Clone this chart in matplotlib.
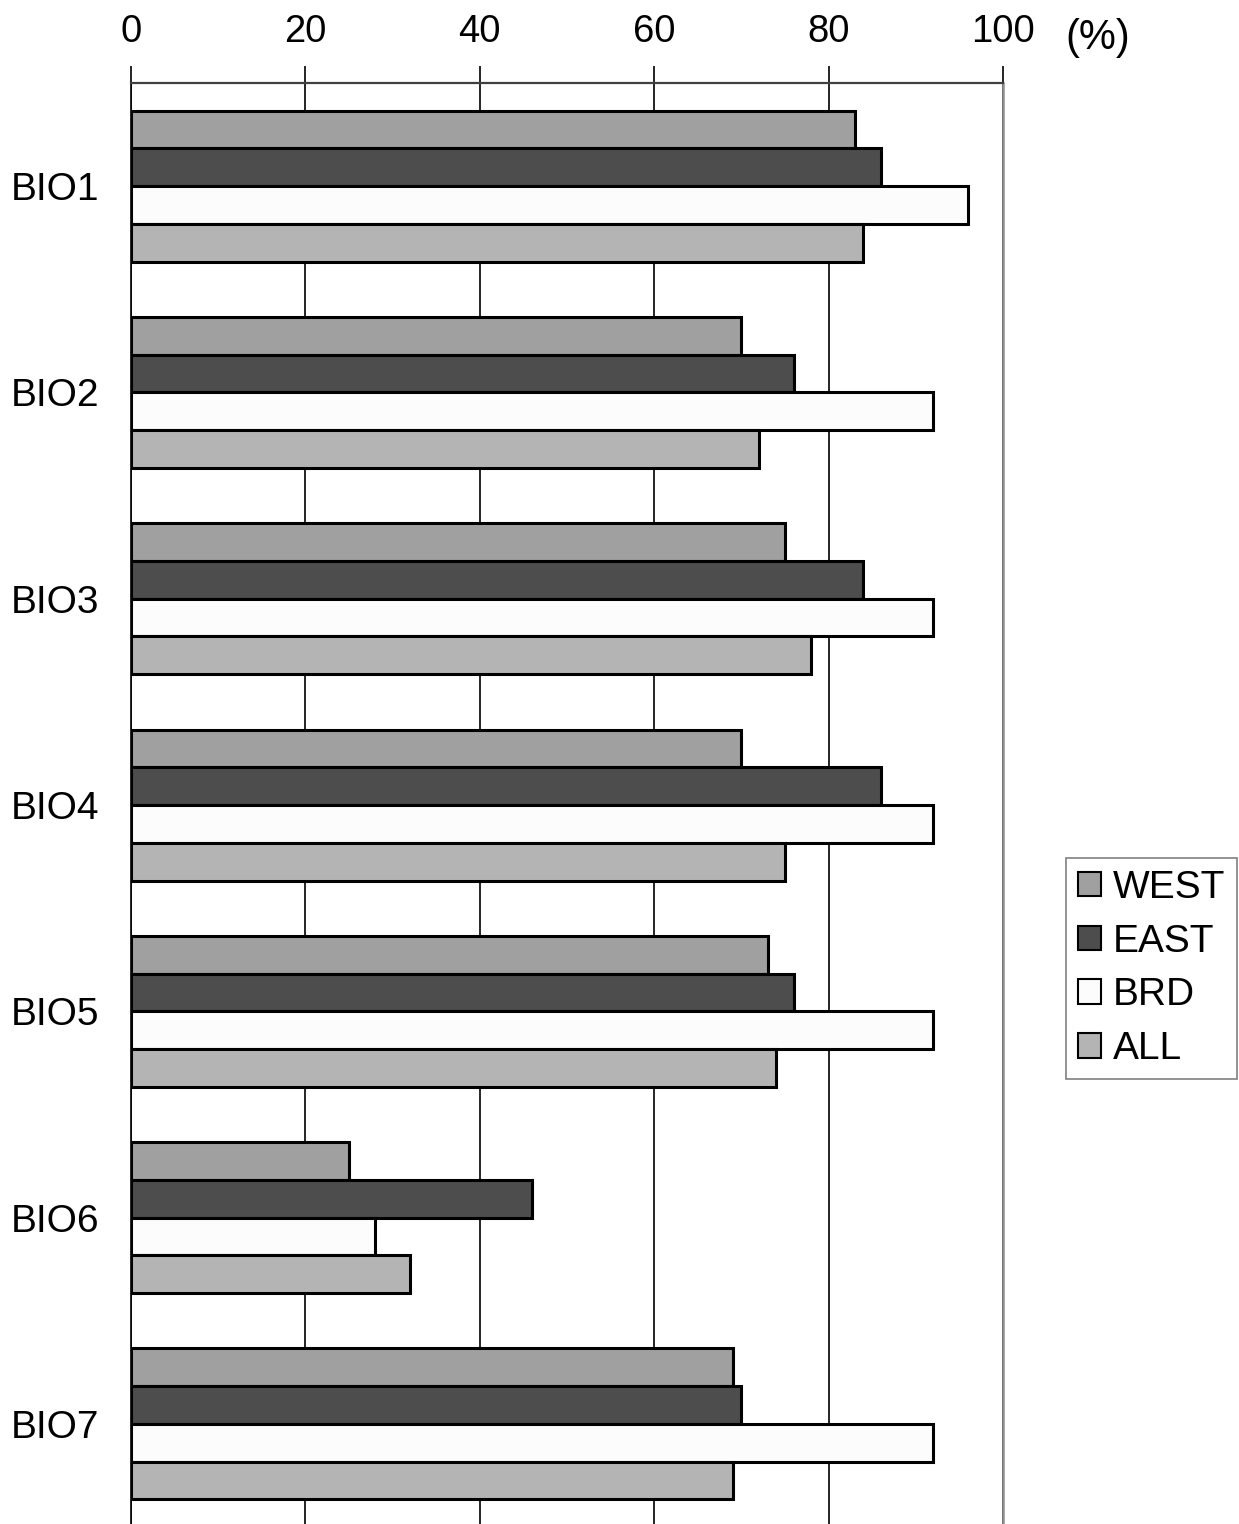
import matplotlib
matplotlib.use("Agg")
import matplotlib.pyplot as plt
import numpy as np
from matplotlib.patches import Patch

plt.rcParams["font.family"] = ["Liberation Sans", "DejaVu Sans"]

categories = ["BIO1", "BIO2", "BIO3", "BIO4", "BIO5", "BIO6", "BIO7"]
series = ["WEST", "EAST", "BRD", "ALL"]
west = [83, 70, 75, 70, 73, 25, 69]
east = [86, 76, 84, 86, 76, 46, 70]
brd = [96, 92, 92, 92, 92, 28, 92]
all_ = [84, 72, 78, 75, 74, 32, 69]
colors = ["#a0a0a0", "#4d4d4d", "#fcfcfc", "#b4b4b4"]

fig = plt.figure(figsize=(12.39, 15.24), dpi=100)
ax = fig.add_axes([131 / 1239, -0.002, (1003 - 131) / 1239, 1 - 83 / 1524 + 0.002])

y = np.arange(len(categories))
h = 0.183
for i, (vals, c, name) in enumerate(zip([west, east, brd, all_], colors, series)):
    ax.barh(y + (i - 1.5) * h, vals, h, color=c, edgecolor="black",
            linewidth=2.2, label=name, zorder=3)

ax.set_xlim(0, 100)
ax.set_ylim(len(categories) - 0.5, -0.5)
ax.set_xticks(np.arange(0, 101, 20))
ax.xaxis.tick_top()
ax.tick_params(axis="x", labelsize=27.5, length=12, width=1.2, pad=12, color="black")
ax.tick_params(axis="y", labelsize=28, length=0, pad=23)
ax.set_yticks(y)
ax.set_yticklabels(categories)
ax.grid(axis="x", color="black", linewidth=1.2, zorder=0)
ax.spines["bottom"].set_visible(False)
ax.spines["left"].set_color("black")
ax.spines["left"].set_linewidth(1.2)
ax.spines["top"].set_color("#404040")
ax.spines["top"].set_linewidth(1.6)
ax.spines["right"].set_color("#909090")
ax.spines["right"].set_linewidth(1.8)

fig.text(1098 / 1239, 1 - 38 / 1524, "(%)", fontsize=30, ha="center", va="center")

handles = [Patch(facecolor=c, edgecolor="black", linewidth=1.5, label=n)
           for c, n in zip(colors, series)]
leg = fig.legend(handles=handles, loc="upper left",
                 bbox_to_anchor=(1066 / 1239, 1 - 858 / 1524),
                 fontsize=28, frameon=True, fancybox=False,
                 handlelength=0.6, handleheight=0.6, handletextpad=0.3,
                 labelspacing=0.46, borderpad=0.3, borderaxespad=0)
leg.get_frame().set_edgecolor("#606060")
leg.get_frame().set_linewidth(1.2)

plt.savefig("out.png", dpi=100)
